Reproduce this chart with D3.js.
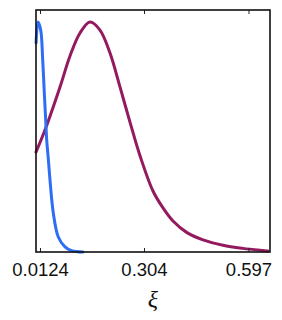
<!DOCTYPE html>
<html>
<head>
<meta charset="utf-8">
<script src="https://cdn.jsdelivr.net/npm/d3@7"></script>
<style>
  body { margin: 0; background: #fff; }
  .axis path { display: none; }
  .axis line { stroke: #222; stroke-width: 1; }
  .axis text { font-family: "Liberation Sans", Arial, sans-serif; font-size: 18.5px; fill: #111; }
  .curve { fill: none; stroke-width: 3; stroke-linejoin: round; stroke-linecap: round; }
</style>
</head>
<body>
<script>
// tick labels on the xi axis
var tickValues = [0.0124, 0.304, 0.597];
var tickLabels = ["0.0124", "0.304", "0.597"];

// blue curve (narrow, near zero) -- normalised density
var blueXi  = [0.0015, 0.0068, 0.0144, 0.0200, 0.0245, 0.0284, 0.0312, 0.0357, 0.0404, 0.0497, 0.0637, 0.0825, 0.1013, 0.1330];
var blueVal = [0.864, 0.950, 0.917, 0.793, 0.657, 0.545, 0.463, 0.385, 0.298, 0.161, 0.062, 0.021, 0.005, 0.000];

// purple curve (broad)
var purpleXi  = [0.0012, 0.0264, 0.0685, 0.0965, 0.1246, 0.1526, 0.1806, 0.2087, 0.2367, 0.2647, 0.2928, 0.3292, 0.3573, 0.3853, 0.4246, 0.4694, 0.5255, 0.5816, 0.6376, 0.6517];
var purpleVal = [0.413, 0.504, 0.682, 0.810, 0.905, 0.950, 0.917, 0.822, 0.682, 0.537, 0.398, 0.252, 0.182, 0.128, 0.080, 0.050, 0.028, 0.015, 0.006, 0.004];

// set the dimensions and margins of the graph
var margin = {top: 10, right: 12, bottom: 68, left: 36},
    width = 282 - margin.left - margin.right,
    height = 320 - margin.top - margin.bottom;

var x = d3.scaleLinear().domain([0.0012, 0.6573]).range([0, width]),
    y = d3.scaleLinear().domain([0, 1]).range([height, 0]);

var svg = d3.select("body").append("svg")
    .attr("width", 282)
    .attr("height", 320)
  .append("g")
    .attr("transform", "translate(" + margin.left + "," + margin.top + ")");

var line = d3.line()
    .x(function(d) { return x(d[0]); })
    .y(function(d) { return y(d[1]); })
    .curve(d3.curveCatmullRom.alpha(0.5));

svg.append("path")
   .datum(d3.zip(purpleXi, purpleVal))
   .attr("class", "curve")
   .attr("stroke", "#931a5f")
   .attr("d", line);

svg.append("path")
   .datum(d3.zip(blueXi, blueVal))
   .attr("class", "curve")
   .attr("stroke", "#2d6ef4")
   .attr("d", line);

// bottom axis, ticks pointing inward
svg.append("g")
   .attr("class", "axis")
   .attr("transform", "translate(0," + height + ")")
   .call(d3.axisBottom(x)
           .tickValues(tickValues)
           .tickFormat(function(d, i) { return tickLabels[i]; })
           .tickSizeInner(-4)
           .tickSizeOuter(0)
           .tickPadding(10.5));

// top axis, ticks only
svg.append("g")
   .attr("class", "axis")
   .call(d3.axisTop(x)
           .tickValues(tickValues)
           .tickFormat("")
           .tickSizeInner(-4)
           .tickSizeOuter(0));

// frame
svg.append("rect")
   .attr("width", width)
   .attr("height", height)
   .attr("fill", "none")
   .attr("stroke", "#111")
   .attr("stroke-width", 1.6);

// axis title
svg.append("text")
   .attr("x", width / 2)
   .attr("y", height + 55)
   .attr("text-anchor", "middle")
   .style("font-family", "'Liberation Serif', 'DejaVu Serif', serif")
   .style("font-style", "italic")
   .style("font-size", "24px")
   .attr("fill", "#111")
   .text("ξ");
</script>
</body>
</html>
